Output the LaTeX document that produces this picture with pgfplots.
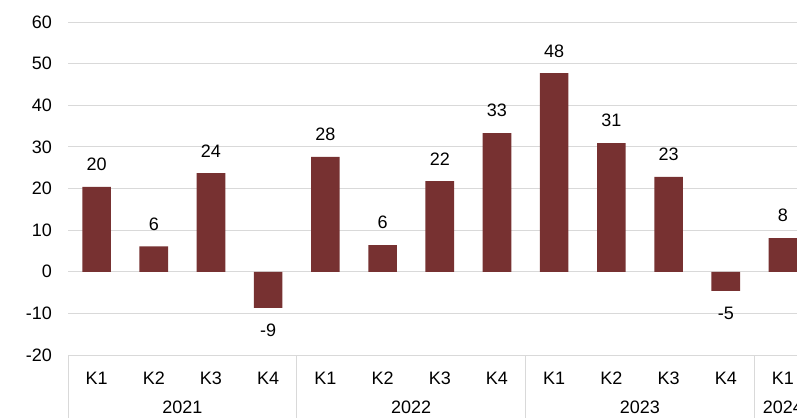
\documentclass[border=0pt]{standalone}
\usepackage{fontspec}
\setmainfont{Liberation Sans}
\usepackage{pgfplots}
\pgfplotsset{compat=1.18}
\definecolor{barred}{HTML}{773131}
\definecolor{gridgray}{HTML}{D9D9D9}
\begin{document}
\fontsize{18bp}{21bp}\selectfont
\begin{tikzpicture}
\clip (-68bp,-63bp) rectangle (729bp,355bp);
\begin{axis}[
  at={(0,0)}, anchor=south west,
  width=729bp, height=333bp, scale only axis,
  xmin=-0.5, xmax=12.245,
  ymin=-20, ymax=60, ytick={-20,-10,...,60},
  ymajorgrids, grid style={gridgray, line width=1bp},
  axis line style={draw=none}, major tick length=0pt,
  xtick={0,...,12},
  xticklabels={K1,K2,K3,K4,K1,K2,K3,K4,K1,K2,K3,K4,K1},
  xticklabel style={anchor=center, inner sep=0pt, yshift=-23bp},
  yticklabel style={anchor=east, inner sep=0pt, xshift=-16bp},
  /pgf/number format/assume math mode=true,
  ybar, bar width=0.5,
  nodes near coords={\pgfmathprintnumber[fixed,precision=0,assume math mode=true]{\pgfplotspointmeta}},
  every node near coord/.append style={inner sep=0pt, outer sep=0pt},
  nodes near coords align={vertical},
  clip=false,
]
\addplot[fill=barred, draw=none,
  every node near coord/.append style={inner ysep=16bp}] coordinates {
  (0,20.4) (1,6.1) (2,23.7) (3,-8.7)
  (4,27.6) (5,6.4) (6,21.8) (7,33.3)
  (8,47.7) (9,30.9) (10,22.8) (11,-4.6)
  (12,8.1)
};
\draw[gridgray, line width=1bp] ([yshift=-70bp]axis cs:-0.5,-20) -- (axis cs:-0.5,-20);
\draw[gridgray, line width=1bp] ([yshift=-70bp]axis cs:3.5,-20) -- (axis cs:3.5,-20);
\draw[gridgray, line width=1bp] ([yshift=-70bp]axis cs:7.5,-20) -- (axis cs:7.5,-20);
\draw[gridgray, line width=1bp] ([yshift=-70bp]axis cs:11.5,-20) -- (axis cs:11.5,-20);
\node[anchor=center, inner sep=0pt] at ([yshift=-52bp]axis cs:1.5,-20) {2021};
\node[anchor=center, inner sep=0pt] at ([yshift=-52bp]axis cs:5.5,-20) {2022};
\node[anchor=center, inner sep=0pt] at ([yshift=-52bp]axis cs:9.5,-20) {2023};
\node[anchor=center, inner sep=0pt] at ([yshift=-52bp]axis cs:12,-20) {2024};
\end{axis}
\end{tikzpicture}
\end{document}
